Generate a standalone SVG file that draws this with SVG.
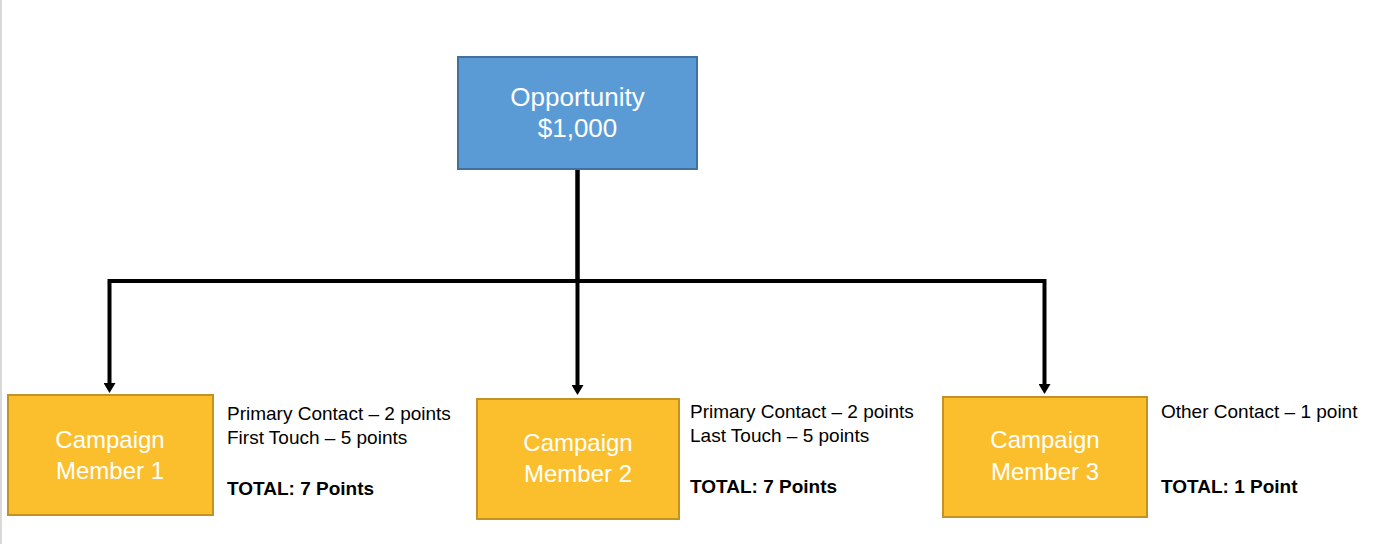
<svg xmlns="http://www.w3.org/2000/svg" width="1374" height="544" viewBox="0 0 1374 544">
<style>
.node-blue{fill:#5B9BD5;stroke:#41719C;stroke-width:2}
.node-gold{fill:#FBBF2E;stroke:#C39222;stroke-width:2}
.lbl{font-family:"Liberation Sans",Arial,sans-serif;fill:#FFFFFF;text-anchor:middle}
.note{font-family:"Liberation Sans",Arial,sans-serif;font-size:19px;fill:#000000}
.bold{font-weight:bold}
.conn{fill:none;stroke:#000000;stroke-width:4}
</style>
<defs>
<marker id="arrow" markerWidth="10" markerHeight="12" refX="0" refY="6" orient="auto" markerUnits="userSpaceOnUse" viewBox="0 0 10 12">
<path d="M0,0 L10,6 L0,12 Z" fill="#000000"/>
</marker>
</defs>
<rect x="0" y="0" width="1374" height="544" fill="#FFFFFF"/>
<rect x="0" y="0" width="2" height="544" fill="#D9D9D9"/>
<g id="connectors">
<path class="conn" d="M577.5,170 L577.5,281 L109.5,281 L109.5,383" marker-end="url(#arrow)"/>
<path class="conn" d="M577.5,170 L577.5,385" marker-end="url(#arrow)"/>
<path class="conn" d="M577.5,281 L1044.5,281 L1044.5,384" marker-end="url(#arrow)"/>
</g>
<g id="opportunity">
<rect class="node-blue" x="458" y="57" width="239" height="112"/>
<text class="lbl" x="577.5" y="106" font-size="26">Opportunity</text>
<text class="lbl" x="577.5" y="137" font-size="26">$1,000</text>
</g>
<g id="member1">
<rect class="node-gold" x="8" y="395" width="205" height="120"/>
<text class="lbl" x="110" y="448" font-size="24">Campaign</text>
<text class="lbl" x="110" y="479" font-size="24">Member 1</text>
</g>
<g id="member1-notes">
<text class="note" x="227" y="420">Primary Contact – 2 points</text>
<text class="note" x="227" y="444">First Touch – 5 points</text>
<text class="note bold" x="227" y="495">TOTAL: 7 Points</text>
</g>
<g id="member2">
<rect class="node-gold" x="477" y="399" width="202" height="120"/>
<text class="lbl" x="578" y="451" font-size="24">Campaign</text>
<text class="lbl" x="578" y="482" font-size="24">Member 2</text>
</g>
<g id="member2-notes">
<text class="note" x="690" y="418">Primary Contact – 2 points</text>
<text class="note" x="690" y="442">Last Touch – 5 points</text>
<text class="note bold" x="690" y="493">TOTAL: 7 Points</text>
</g>
<g id="member3">
<rect class="node-gold" x="943" y="397" width="204" height="120"/>
<text class="lbl" x="1045" y="448" font-size="24">Campaign</text>
<text class="lbl" x="1045" y="480" font-size="24">Member 3</text>
</g>
<g id="member3-notes">
<text class="note" x="1161" y="418">Other Contact – 1 point</text>
<text class="note bold" x="1161" y="493">TOTAL: 1 Point</text>
</g>
</svg>
